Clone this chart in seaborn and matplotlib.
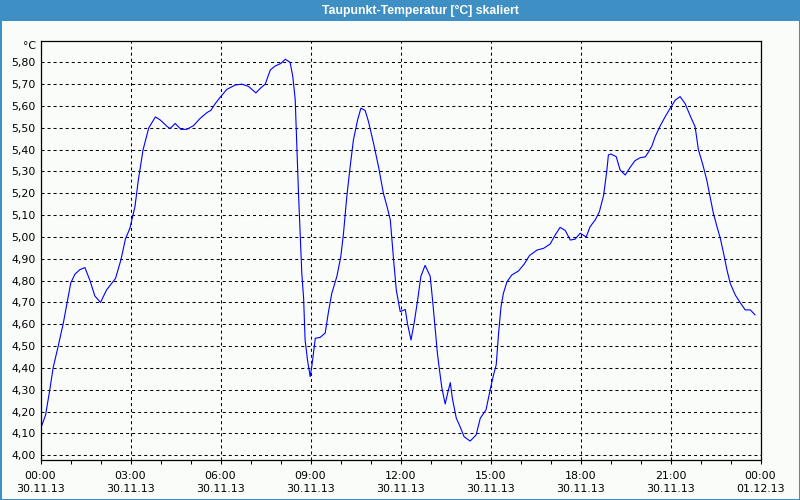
import matplotlib
matplotlib.use("Agg")
import matplotlib.pyplot as plt
from matplotlib.patches import Rectangle
from matplotlib.ticker import FixedLocator, MultipleLocator, FuncFormatter
import seaborn as sns
import pandas as pd

# ---- data ----
hours = [0.0, 0.17, 0.31, 0.42, 0.59, 0.76, 0.9, 1.01, 1.15, 1.31, 1.48, 1.65, 1.81, 2.0,
         2.2, 2.5, 2.68, 2.83, 2.98, 3.15, 3.26, 3.42, 3.61, 3.83, 3.99, 4.23, 4.32, 4.49,
         4.68, 4.88, 5.1, 5.32, 5.55, 5.68, 5.82, 5.99, 6.21, 6.49, 6.71, 6.93, 7.18, 7.32,
         7.49, 7.66, 7.82, 8.01, 8.16, 8.32, 8.41, 8.49, 8.55, 8.6, 8.66, 8.71, 8.77, 8.82,
         8.9, 8.99, 9.05, 9.16, 9.32, 9.49, 9.6, 9.71, 9.88, 10.01, 10.1, 10.21, 10.32,
         10.43, 10.57, 10.68, 10.82, 10.93, 11.1, 11.27, 11.43, 11.55, 11.66, 11.77, 11.86,
         11.99, 12.16, 12.23, 12.35, 12.46, 12.57, 12.68, 12.82, 12.99, 13.08, 13.16, 13.23,
         13.3, 13.38, 13.49, 13.57, 13.66, 13.73, 13.86, 13.99, 14.12, 14.32, 14.52, 14.66,
         14.85, 14.99, 15.1, 15.19, 15.27, 15.35, 15.43, 15.55, 15.71, 15.93, 16.12, 16.3,
         16.55, 16.77, 16.99, 17.16, 17.32, 17.49, 17.66, 17.82, 17.99, 18.19, 18.32, 18.49,
         18.63, 18.77, 18.88, 18.93, 19.01, 19.19, 19.32, 19.49, 19.66, 19.82, 19.99, 20.16,
         20.27, 20.38, 20.49, 20.66, 20.82, 20.99, 21.16, 21.32, 21.49, 21.66, 21.82, 21.93,
         22.08, 22.21, 22.32, 22.43, 22.55, 22.66, 22.77, 22.88, 22.99, 23.16, 23.32, 23.49,
         23.66, 23.82]
dewpoint = [4.12, 4.185, 4.30, 4.40, 4.50, 4.605, 4.71, 4.79, 4.83, 4.85, 4.86, 4.80, 4.73, 4.70,
            4.757, 4.81, 4.895, 4.99, 5.04, 5.14, 5.26, 5.40, 5.50, 5.55, 5.536, 5.505, 5.497, 5.52,
            5.493, 5.493, 5.51, 5.543, 5.57, 5.58, 5.61, 5.64, 5.676, 5.696, 5.70, 5.69, 5.66, 5.68,
            5.70, 5.765, 5.783, 5.795, 5.814, 5.80, 5.735, 5.63, 5.40, 5.20, 5.00, 4.834, 4.72, 4.528,
            4.436, 4.36, 4.414, 4.536, 4.54, 4.56, 4.658, 4.742, 4.82, 4.91, 5.017, 5.185, 5.32,
            5.444, 5.536, 5.59, 5.58, 5.53, 5.43, 5.32, 5.20, 5.14, 5.078, 4.895, 4.757,
            4.658, 4.668, 4.605, 4.528, 4.61, 4.71, 4.82, 4.87, 4.82, 4.695, 4.574, 4.467,
            4.39, 4.307, 4.235, 4.284, 4.333, 4.26, 4.17, 4.13, 4.085, 4.065, 4.093, 4.17,
            4.208, 4.30, 4.368, 4.414, 4.56, 4.68, 4.742, 4.795, 4.826, 4.844, 4.875, 4.915,
            4.94, 4.948, 4.968, 5.01, 5.044, 5.03, 4.986, 4.99, 5.017, 5.00, 5.047, 5.078,
            5.116, 5.19, 5.307, 5.376, 5.38, 5.368, 5.307, 5.284, 5.32, 5.35, 5.363, 5.367,
            5.39, 5.417, 5.46, 5.51, 5.55, 5.59, 5.627, 5.643, 5.61, 5.554, 5.505, 5.40,
            5.33, 5.26, 5.185, 5.108, 5.047, 4.994, 4.925, 4.85, 4.788, 4.734, 4.70, 4.666,
            4.666, 4.643]

x_tick_hours = [0, 3, 6, 9, 12, 15, 18, 21, 24]
x_tick_labels = ["00:00\n30.11.13", "03:00\n30.11.13", "06:00\n30.11.13", "09:00\n30.11.13",
                 "12:00\n30.11.13", "15:00\n30.11.13", "18:00\n30.11.13", "21:00\n30.11.13",
                 "00:00\n01.12.13"]
y_ticks = [4.0, 4.1, 4.2, 4.3, 4.4, 4.5, 4.6, 4.7, 4.8, 4.9, 5.0,
           5.1, 5.2, 5.3, 5.4, 5.5, 5.6, 5.7, 5.8]
title = "Taupunkt-Temperatur [°C] skaliert"
unit = "°C"

# ---- styling ----
sns.set_style("white")
plt.rcParams["font.family"] = ["DejaVu Sans"]
BG = "#fafcfa"
BAR = "#3d8fc4"

W, H = 800, 500
fig = plt.figure(figsize=(8, 5), dpi=100, facecolor=BG)
left, right, top, bottom = 40.5, 760.5, 40.5, 460.3
ax = fig.add_axes([left / W, 1 - bottom / H, (right - left) / W, (bottom - top) / H])
ax.set_facecolor(BG)

df = pd.DataFrame({"h": hours, "v": dewpoint})
sns.lineplot(data=df, x="h", y="v", ax=ax, color="#0000ff", linewidth=0.8)

ax.set_xlim(0, 24)
ax.set_ylim(3.977, 5.90)
ax.set_xlabel("")
ax.set_ylabel("")

ax.xaxis.set_major_locator(FixedLocator(x_tick_hours))
ax.set_xticklabels(x_tick_labels)
ax.xaxis.set_minor_locator(MultipleLocator(1))
ax.yaxis.set_major_locator(FixedLocator(y_ticks))
ax.yaxis.set_major_formatter(FuncFormatter(lambda v, p: f"{v:.2f}".replace(".", ",")))

dash = (0, (2.9, 2.9))
ax.grid(True, which="major", axis="both", color="black", linewidth=0.75, linestyle=dash)

ax.tick_params(axis="x", which="both", direction="out", length=3, width=0.75,
               color="black", pad=4.5, labelsize=7.9, labelcolor="#000000", bottom=True)
ax.tick_params(axis="y", which="both", length=0, pad=3.3, labelsize=7.9, labelcolor="#000000")
for t in ax.get_xticklabels():
    t.set_linespacing(1.42)

for s in ax.spines.values():
    s.set_visible(True)
    s.set_color("black")
    s.set_linewidth(0.9)

# title bar
fig.add_artist(Rectangle((0, 1 - 21 / H), 1, 21 / H, transform=fig.transFigure,
                         facecolor=BAR, edgecolor="none", zorder=0))
fig.text(420 / W, 1 - 10.5 / H, title, color="white", fontsize=8.8, fontweight="bold",
         ha="center", va="center", family=["Liberation Sans", "DejaVu Sans"])
# outer border
fig.add_artist(Rectangle((0, 0), 1, 1, transform=fig.transFigure, fill=False,
                         edgecolor=BAR, linewidth=2.2, zorder=5))
# unit label
fig.text(36.5 / W, 1 - 46 / H, unit, fontsize=7.9, ha="right", va="center", color="black")

fig.savefig("out.png", dpi=100, facecolor=BG)
